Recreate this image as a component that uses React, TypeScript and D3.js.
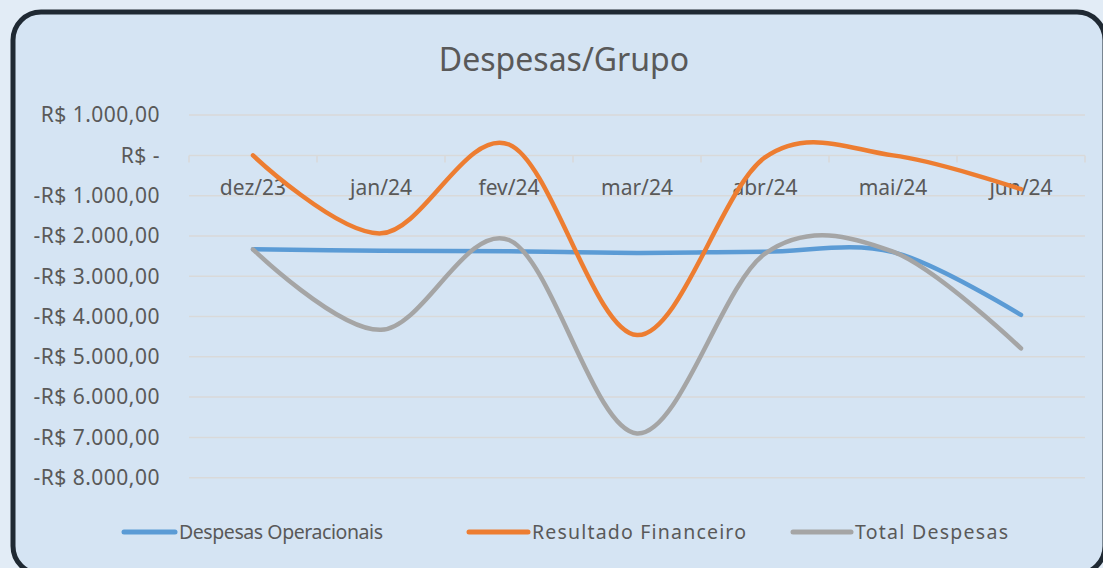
import { useEffect, useRef } from "react"
import * as d3 from "d3"

const categories = ["dez/23", "jan/24", "fev/24", "mar/24", "abr/24", "mai/24", "jun/24"]
const despesasOperacionais = [-2330, -2370, -2380, -2420, -2390, -2400, -3960]
const resultadoFinanceiro = [0, -1935, 270, -4460, -50, 0, -840]
const totalDespesas = [-2330, -4330, -2100, -6900, -2440, -2390, -4790]
const yTicks = [1000, 0, -1000, -2000, -3000, -4000, -5000, -6000, -7000, -8000]

const seriesNames = ["Despesas Operacionais", "Resultado Financeiro", "Total Despesas"]
const seriesColors = ["#5b9bd5", "#ed7d31", "#a5a5a5"]

const ptBR = d3.formatLocale({ decimal: ",", thousands: ".", grouping: [3], currency: ["R$ ", ""] })
const fmt = ptBR.format(",.2f")
const brl = (v: number) => (v === 0 ? "R$ -" : (v < 0 ? "-" : "") + "R$ " + fmt(Math.abs(v)))

export default function App() {
  const svgRef = useRef<SVGSVGElement>(null)

  useEffect(() => {
    if (!svgRef.current) return
    d3.select(svgRef.current).selectAll("*").remove()

    const width = 1103
    const height = 568
    const font = "'Noto Sans', 'Open Sans', sans-serif"
    const textColor = "#595959"
    const gridColor = "#d9d9d9"

    const svg = d3.select(svgRef.current).attr("width", width).attr("height", height)

    // page + card
    svg.append("rect").attr("width", width).attr("height", height).attr("fill", "#e2ecf6")
    svg
      .append("rect")
      .attr("x", 13)
      .attr("y", 12)
      .attr("width", 1092)
      .attr("height", 562)
      .attr("rx", 28)
      .attr("fill", "#d5e4f3")
      .attr("stroke", "#1f2933")
      .attr("stroke-width", 5)

    const x = d3.scaleBand().domain(categories).range([189, 1085])
    const y = d3.scaleLinear().domain([-8000, 1000]).range([477.7, 115.1])

    // title
    svg
      .append("text")
      .attr("x", 564)
      .attr("y", 71)
      .attr("text-anchor", "middle")
      .style("font-family", font)
      .style("font-size", "32px")
      .style("fill", textColor)
      .text("Despesas/Grupo")

    // gridlines
    svg
      .append("g")
      .selectAll("line")
      .data(yTicks)
      .enter()
      .append("line")
      .attr("x1", 189)
      .attr("x2", 1085)
      .attr("y1", (d) => y(d))
      .attr("y2", (d) => y(d))
      .attr("stroke", gridColor)
      .attr("stroke-width", 1.5)

    // category axis at zero with outside ticks
    const bounds = categories.map((c) => x(c) || 0).concat([1085])
    svg
      .append("g")
      .selectAll("line")
      .data(bounds)
      .enter()
      .append("line")
      .attr("x1", (d) => d)
      .attr("x2", (d) => d)
      .attr("y1", y(0))
      .attr("y2", y(0) + 7)
      .attr("stroke", gridColor)
      .attr("stroke-width", 1.5)

    // y labels
    svg
      .append("g")
      .selectAll("text")
      .data(yTicks)
      .enter()
      .append("text")
      .attr("x", 160)
      .attr("y", (d) => y(d))
      .attr("dy", "0.35em")
      .attr("text-anchor", "end")
      .style("font-family", font)
      .style("font-size", "21px")
      .style("letter-spacing", "0.5px")
      .style("fill", textColor)
      .text((d) => brl(d))

    // x labels
    svg
      .append("g")
      .selectAll("text")
      .data(categories)
      .enter()
      .append("text")
      .attr("x", (d) => (x(d) || 0) + x.bandwidth() / 2)
      .attr("y", y(0) + 40)
      .attr("text-anchor", "middle")
      .style("font-family", font)
      .style("font-size", "21px")
      .style("fill", textColor)
      .text((d) => d)

    // lines
    const allSeries = [despesasOperacionais, resultadoFinanceiro, totalDespesas]
    const line = d3
      .line<number>()
      .x((_, i) => (x(categories[i]) || 0) + x.bandwidth() / 2)
      .y((d) => y(d))
      .curve(d3.curveCardinal.tension(0))

    allSeries.forEach((s, i) => {
      svg
        .append("path")
        .datum(s)
        .attr("d", line)
        .attr("fill", "none")
        .attr("stroke", seriesColors[i])
        .attr("stroke-width", 4.5)
        .attr("stroke-linecap", "round")
        .attr("stroke-linejoin", "round")
    })

    // legend
    const legendY = 532
    const legendX = [122, 467, 791]
    const swatchW = [53, 61, 60]
    const legendW = [204, 214, 153]
    const legend = svg
      .append("g")
      .selectAll("g")
      .data(seriesNames)
      .enter()
      .append("g")
      .attr("transform", (_, i) => `translate(${legendX[i]},${legendY})`)

    legend
      .append("line")
      .attr("x1", 2)
      .attr("x2", (_, i) => swatchW[i])
      .attr("stroke", (_, i) => seriesColors[i])
      .attr("stroke-width", 5)
      .attr("stroke-linecap", "round")

    legend
      .append("text")
      .attr("x", (_, i) => swatchW[i] + 4)
      .attr("dy", "0.35em")
      .attr("textLength", (_, i) => legendW[i])
      .attr("lengthAdjust", "spacing")
      .style("font-family", font)
      .style("font-size", "19.5px")
      .style("fill", textColor)
      .text((d) => d)
  }, [])

  return <svg ref={svgRef} style={{ position: "absolute", left: 0, top: 0 }}></svg>
}
